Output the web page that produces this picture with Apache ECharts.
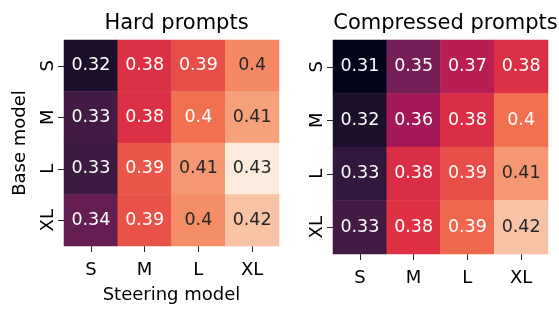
<!DOCTYPE html>
<html>
<head>
<meta charset="utf-8">
<script src="https://cdn.jsdelivr.net/npm/echarts@6/dist/echarts.min.js"></script>
<style>
  html, body { margin: 0; padding: 0; background: #fff; }
  #main { width: 559px; height: 309px; }
</style>
</head>
<body>
<div id="main"></div>
<script>
var steering = ['S', 'M', 'L', 'XL'];
var base = ['S', 'M', 'L', 'XL'];

// rows = base model, columns = steering model
var hardPrompts = [
  [0.318, 0.378, 0.387, 0.403],
  [0.331, 0.378, 0.396, 0.410],
  [0.329, 0.389, 0.407, 0.433],
  [0.341, 0.388, 0.404, 0.420]
];
var compressedPrompts = [
  [0.309, 0.346, 0.366, 0.378],
  [0.318, 0.359, 0.377, 0.396],
  [0.326, 0.377, 0.387, 0.407],
  [0.331, 0.379, 0.394, 0.420]
];

var titles = ['Hard prompts', 'Compressed prompts'];

// seaborn "rocket"
var rocket = ['#03051a', '#35193e', '#701f57', '#ad1759', '#e13342', '#f37651', '#f6b48f', '#faebdd'];

var font = 'DejaVu Sans';
var ink = '#262626';

function toCells(m) {
  var out = [];
  m.forEach(function (row, r) {
    row.forEach(function (v, c) {
      out.push({
        value: [c, r, v],
        label: { color: v > 0.4 ? ink : '#ffffff' }
      });
    });
  });
  return out;
}

var all = hardPrompts.concat(compressedPrompts).reduce(function (a, b) { return a.concat(b); }, []);
var vmin = Math.min.apply(null, all);
var vmax = Math.max.apply(null, all);

var grids = [
  { left: 64, top: 40, width: 215, height: 214 },
  { left: 333, top: 40, width: 215, height: 214 }
];

var myChart = echarts.init(document.getElementById('main'));

var option = {
  animation: false,
  title: grids.map(function (g, i) {
    return {
      text: titles[i],
      left: g.left + g.width / 2,
      top: 8,
      textAlign: 'center',
      textStyle: { fontFamily: font, fontSize: 21, fontWeight: 'normal', color: '#000' }
    };
  }),
  grid: grids,
  xAxis: grids.map(function (g, i) {
    return {
      type: 'category',
      gridIndex: i,
      data: steering,
      name: i === 0 ? 'Steering model' : '',
      nameLocation: 'middle',
      nameGap: 40,
      nameTextStyle: { fontFamily: font, fontSize: 18, color: '#000' },
      axisLine: { show: false },
      axisTick: { show: true, alignWithLabel: true, length: 6, lineStyle: { color: ink } },
      axisLabel: { fontFamily: font, fontSize: 18, color: '#000', margin: 15 },
      splitArea: { show: false }
    };
  }),
  yAxis: grids.map(function (g, i) {
    return {
      type: 'category',
      gridIndex: i,
      data: base,
      inverse: true,
      name: i === 0 ? 'Base model' : '',
      nameLocation: 'middle',
      nameRotate: 90,
      nameGap: 35,
      nameTextStyle: { fontFamily: font, fontSize: 18, color: '#000' },
      axisLine: { show: false },
      axisTick: { show: true, alignWithLabel: true, length: 6, lineStyle: { color: ink } },
      axisLabel: { fontFamily: font, fontSize: 18, color: '#000', rotate: 90, margin: 7 },
      splitArea: { show: false }
    };
  }),
  visualMap: {
    show: false,
    type: 'continuous',
    min: vmin,
    max: vmax,
    dimension: 2,
    seriesIndex: [0, 1],
    inRange: { color: rocket }
  },
  series: [hardPrompts, compressedPrompts].map(function (m, i) {
    return {
      type: 'heatmap',
      xAxisIndex: i,
      yAxisIndex: i,
      data: toCells(m),
      label: {
        show: true,
        fontFamily: font,
        fontSize: 17.5,
        formatter: function (p) { return String(Number(p.value[2].toPrecision(2))); }
      },
      emphasis: { disabled: true }
    };
  })
};

myChart.setOption(option);
</script>
</body>
</html>
